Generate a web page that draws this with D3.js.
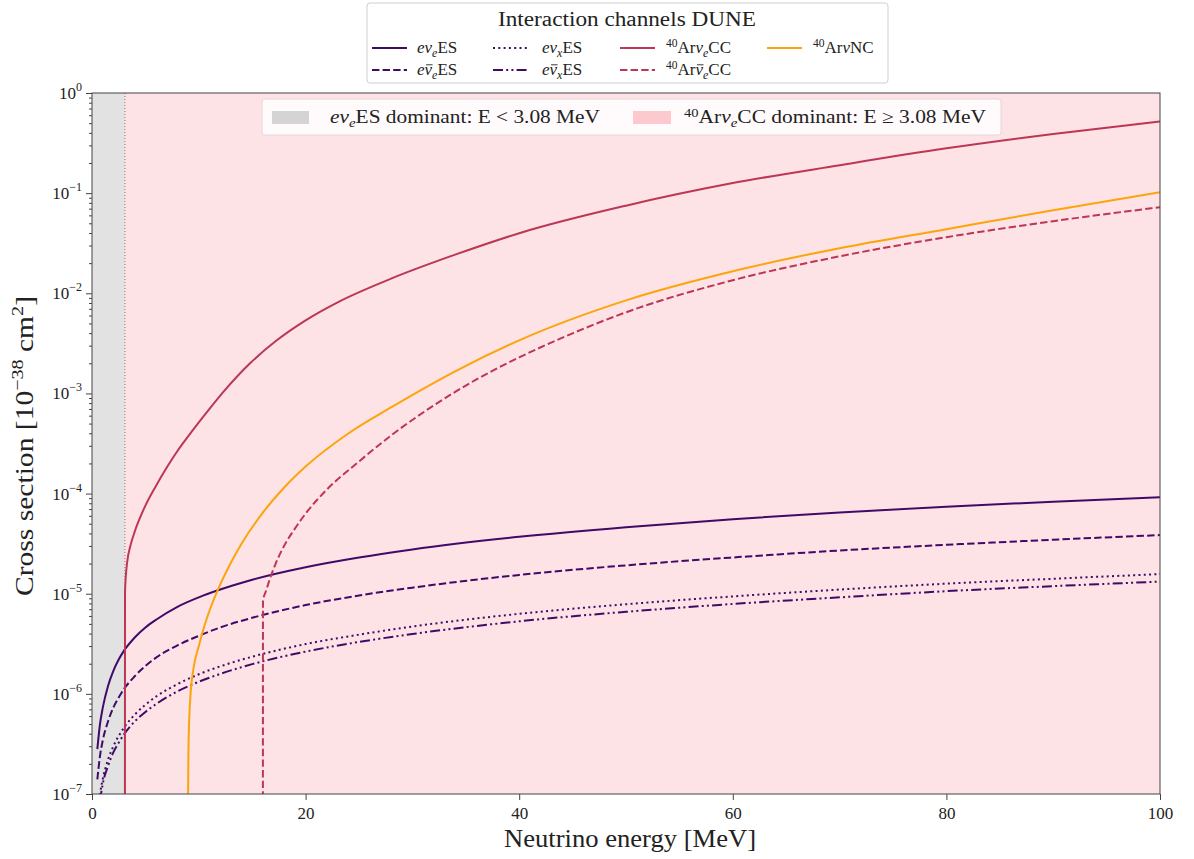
<!DOCTYPE html>
<html><head><meta charset="utf-8">
<script src="https://cdn.jsdelivr.net/npm/d3@7"></script>
<style>
body{margin:0;background:#fff;}
svg text{font-family:"Liberation Serif","DejaVu Serif",serif;fill:#222;}
</style></head><body>
<svg id="c" width="1194" height="859"></svg>
<script>
// ---------- data ----------
const threshold = 3.08;
const xTicks = [0, 20, 40, 60, 80, 100];
const yTickExps = [-7, -6, -5, -4, -3, -2, -1, 0];

const esE      = [0.5, 0.75, 1, 1.5, 2, 2.5, 3, 4, 5, 6, 8, 10, 12, 15, 20, 25, 30, 40, 50, 60, 70, 80, 90, 100];
const nueES    = [2.8e-7, 5.0e-7, 7.2e-7, 1.2e-6, 1.7e-6, 2.2e-6, 2.7e-6, 3.65e-6, 4.6e-6, 5.5e-6, 7.4e-6, 9.2e-6, 1.1e-5, 1.38e-5, 1.84e-5, 2.3e-5, 2.77e-5, 3.7e-5, 4.62e-5, 5.55e-5, 6.47e-5, 7.4e-5, 8.3e-5, 9.2e-5];
const nuebarES = [1.4e-7, 2.4e-7, 3.4e-7, 5.3e-7, 7.3e-7, 9.2e-7, 1.12e-6, 1.5e-6, 1.9e-6, 2.3e-6, 3.05e-6, 3.8e-6, 4.6e-6, 5.75e-6, 7.7e-6, 9.6e-6, 1.15e-5, 1.54e-5, 1.92e-5, 2.3e-5, 2.7e-5, 3.08e-5, 3.46e-5, 3.85e-5];
const nuxES    = [6.0e-8, 1.0e-7, 1.4e-7, 2.2e-7, 3.0e-7, 3.8e-7, 4.6e-7, 6.2e-7, 7.8e-7, 9.4e-7, 1.25e-6, 1.57e-6, 1.88e-6, 2.35e-6, 3.14e-6, 3.9e-6, 4.7e-6, 6.3e-6, 7.85e-6, 9.4e-6, 1.1e-5, 1.26e-5, 1.41e-5, 1.57e-5];
const nuxbarES = [5.0e-8, 8.5e-8, 1.25e-7, 1.9e-7, 2.6e-7, 3.25e-7, 3.95e-7, 5.3e-7, 6.6e-7, 7.9e-7, 1.06e-6, 1.32e-6, 1.58e-6, 1.98e-6, 2.64e-6, 3.3e-6, 3.96e-6, 5.3e-6, 6.6e-6, 7.9e-6, 9.2e-6, 1.06e-5, 1.19e-5, 1.32e-5];

const ccE   = [3.08, 3.09, 3.15, 3.3, 3.6, 4, 4.5, 5, 6, 7, 8, 9, 10, 11, 12.3, 14.8, 17.3, 20, 23, 28, 34, 40, 50, 60, 70, 80, 90, 100];
const ccNue = [1e-8, 1.0e-5, 1.41e-5, 2.09e-5, 3.02e-5, 4.17e-5, 5.75e-5, 7.59e-5, 1.2e-4, 1.82e-4, 2.66e-4, 3.72e-4, 5.13e-4, 7.0e-4, 1.035e-3, 2.0e-3, 3.39e-3, 5.37e-3, 8.13e-3, 1.4e-2, 2.43e-2, 3.98e-2, 7.5e-2, 0.126, 0.19, 0.28, 0.39, 0.52];

const ccbarE   = [16.0, 16.01, 16.3, 16.6, 17.2, 18, 19, 20, 22, 25, 28, 32, 36, 40, 45, 50, 60, 70, 80, 90, 100];
const ccNuebar = [1e-8, 8.5e-6, 1.07e-5, 1.35e-5, 2.0e-5, 3.02e-5, 4.47e-5, 6.31e-5, 1.1e-4, 2.09e-4, 3.8e-4, 7.59e-4, 1.38e-3, 2.29e-3, 3.98e-3, 6.46e-3, 1.35e-2, 2.34e-2, 3.63e-2, 5.25e-2, 7.24e-2];

const ncE  = [8.97, 9.0, 9.05, 9.2, 9.5, 10, 10.5, 11, 12, 13, 14, 16, 18, 20, 24, 28, 34, 40, 50, 60, 70, 80, 90, 100];
const ncNu = [1e-8, 1e-7, 3.55e-7, 8.9e-7, 1.78e-6, 3.0e-6, 4.68e-6, 6.76e-6, 1.23e-5, 2.04e-5, 3.16e-5, 6.46e-5, 1.15e-4, 1.86e-4, 3.98e-4, 7.24e-4, 1.66e-3, 3.39e-3, 8.5e-3, 1.66e-2, 2.82e-2, 4.37e-2, 6.76e-2, 0.102];

// ---------- styles ----------
const PURPLE = "#420a68", CRIMSON = "#bc3754", ORANGE = "#fca50a";
const DASH = "7.4,3.2", DOT = "2,3.3", DASHDOTDOT = "10,3.2,2,3.2,2,3.2";

const series = [
  {x: esE,    y: nueES,    color: PURPLE,  dash: null},
  {x: esE,    y: nuebarES, color: PURPLE,  dash: DASH},
  {x: esE,    y: nuxES,    color: PURPLE,  dash: DOT},
  {x: esE,    y: nuxbarES, color: PURPLE,  dash: DASHDOTDOT},
  {x: ccE,    y: ccNue,    color: CRIMSON, dash: null},
  {x: ccbarE, y: ccNuebar, color: CRIMSON, dash: DASH},
  {x: ncE,    y: ncNu,     color: ORANGE,  dash: null},
];

const svg = d3.select("#c");
const L = 92, R = 1160, T = 93, B = 794;
const x = d3.scaleLinear().domain([0, 100]).range([L, R]);
const y = d3.scaleLog().domain([1e-7, 1]).range([B, T]);

svg.append("defs").append("clipPath").attr("id", "clip")
  .append("rect").attr("x", L).attr("y", T).attr("width", R - L).attr("height", B - T);

// regions
svg.append("rect").attr("x", x(0)).attr("y", T).attr("width", x(threshold) - x(0)).attr("height", B - T).attr("fill", "#e2e2e2");
svg.append("rect").attr("x", x(threshold)).attr("y", T).attr("width", x(100) - x(threshold)).attr("height", B - T).attr("fill", "#fde2e6");
svg.append("line").attr("x1", x(threshold)).attr("x2", x(threshold)).attr("y1", T).attr("y2", B)
  .attr("stroke", "#b06a6a").attr("stroke-width", 1).attr("stroke-dasharray", "1,2");

// curves
const g = svg.append("g").attr("clip-path", "url(#clip)");
const line = d3.line().x(d => x(d[0])).y(d => y(d[1])).curve(d3.curveMonotoneX);
series.forEach(s => {
  g.append("path").datum(s.x.map((e, i) => [e, s.y[i]]))
    .attr("d", line).attr("fill", "none").attr("stroke", s.color).attr("stroke-width", 2)
    .attr("stroke-dasharray", s.dash);
});

// frame
svg.append("rect").attr("x", L).attr("y", T).attr("width", R - L).attr("height", B - T)
  .attr("fill", "none").attr("stroke", "#444").attr("stroke-width", 1);

// x axis
const xa = svg.append("g").attr("transform", `translate(0,${B})`)
  .call(d3.axisBottom(x).tickValues(xTicks).tickSize(6).tickFormat(d => d));
xa.select(".domain").remove();
xa.selectAll(".tick line").attr("stroke", "#444");
xa.selectAll(".tick text").attr("font-size", 17).attr("font-family", "Liberation Serif").attr("dy", "0.95em").attr("fill", "#222");

// y axis major + minor
const minor = [];
yTickExps.slice(0, -1).forEach(e => { for (let k = 2; k <= 9; k++) minor.push(k * Math.pow(10, e)); });
const ya = svg.append("g").attr("transform", `translate(${L},0)`)
  .call(d3.axisLeft(y).tickValues(yTickExps.map(e => Math.pow(10, e))).tickSize(6).tickFormat(""));
ya.select(".domain").remove();
ya.selectAll(".tick line").attr("stroke", "#444");
const ym = svg.append("g").attr("transform", `translate(${L},0)`)
  .call(d3.axisLeft(y).tickValues(minor).tickSize(3).tickFormat(""));
ym.select(".domain").remove();
ym.selectAll(".tick line").attr("stroke", "#444");

yTickExps.forEach(e => {
  const t = svg.append("text").attr("x", L - 10).attr("y", y(Math.pow(10, e)) + 6)
    .attr("text-anchor", "end").attr("font-size", 17);
  t.append("tspan").text("10");
  t.append("tspan").attr("dy", -8).attr("font-size", 12).text(e === 0 ? "0" : "\u2212" + (-e));
});

// axis labels
svg.append("text").attr("x", 630).attr("y", 847).attr("text-anchor", "middle").attr("font-size", 26)
  .attr("textLength", 252).attr("lengthAdjust", "spacingAndGlyphs")
  .text("Neutrino energy [MeV]");
const yl = svg.append("text").attr("transform", `translate(33,${446}) rotate(-90)`)
  .attr("text-anchor", "middle").attr("font-size", 25)
  .attr("textLength", 300).attr("lengthAdjust", "spacingAndGlyphs");
yl.append("tspan").text("Cross section [10");
yl.append("tspan").attr("dy", -10).attr("font-size", 17).text("\u221238");
yl.append("tspan").attr("dy", 10).text(" cm");
yl.append("tspan").attr("dy", -10).attr("font-size", 17).text("2");
yl.append("tspan").attr("dy", 10).text("]");

// label helpers
function nu(t, bar) {
  const s = t.append("tspan").attr("font-style", "italic").text("\u03BD");
  if (bar) s.classed("nubar", true);
}
function esLabel(t, bar, flav) {
  t.append("tspan").attr("font-style", "italic").text("e");
  nu(t, bar);
  t.append("tspan").attr("font-style", "italic").attr("font-size", "70%").attr("dy", 4).text(flav);
  t.append("tspan").attr("dy", -4).text("ES");
}
function arLabel(t, bar, flav, tail) {
  t.append("tspan").attr("font-size", "68%").attr("dy", -6).text("40");
  t.append("tspan").attr("dy", 6).text("Ar");
  nu(t, bar);
  if (flav) {
    t.append("tspan").attr("font-style", "italic").attr("font-size", "70%").attr("dy", 4).text(flav);
    t.append("tspan").attr("dy", -4).text(tail);
  } else t.append("tspan").text(tail);
}

// top legend
const lg = svg.append("g");
lg.append("rect").attr("x", 367).attr("y", 3).attr("width", 521).attr("height", 80).attr("rx", 3)
  .attr("fill", "#fff").attr("stroke", "#cfcfcf");
lg.append("text").attr("x", 627).attr("y", 26).attr("text-anchor", "middle").attr("font-size", 20)
  .attr("textLength", 258).attr("lengthAdjust", "spacingAndGlyphs")
  .text("Interaction channels DUNE");
const legendItems = [
  {lx: 372, tx: 417, ly: 48, s: 0, lab: t => esLabel(t, false, "e")},
  {lx: 372, tx: 417, ly: 70, s: 1, lab: t => esLabel(t, true, "e")},
  {lx: 493, tx: 542, ly: 48, s: 2, lab: t => esLabel(t, false, "x")},
  {lx: 493, tx: 542, ly: 70, s: 3, lab: t => esLabel(t, true, "x")},
  {lx: 620, tx: 666, ly: 48, s: 4, lab: t => arLabel(t, false, "e", "CC")},
  {lx: 620, tx: 666, ly: 70, s: 5, lab: t => arLabel(t, true, "e", "CC")},
  {lx: 767, tx: 813, ly: 48, s: 6, lab: t => arLabel(t, false, null, "NC")},
];
legendItems.forEach(it => {
  const s = series[it.s];
  lg.append("line").attr("x1", it.lx).attr("x2", it.lx + 35).attr("y1", it.ly).attr("y2", it.ly)
    .attr("stroke", s.color).attr("stroke-width", 2).attr("stroke-dasharray", s.dash);
  const t = lg.append("text").attr("x", it.tx).attr("y", it.ly + 5).attr("font-size", 17);
  it.lab(t);
});

// inner legend
const il = svg.append("g");
il.append("rect").attr("x", 262).attr("y", 99).attr("width", 739).attr("height", 36).attr("rx", 3)
  .attr("fill", "#fff").attr("fill-opacity", 0.85).attr("stroke", "#e6d6d8");
il.append("rect").attr("x", 272).attr("y", 111).attr("width", 37).attr("height", 13).attr("fill", "#d4d4d4");
il.append("rect").attr("x", 633).attr("y", 111).attr("width", 38).attr("height", 13).attr("fill", "#fcc9ce");
const t1 = il.append("text").attr("x", 330).attr("y", 123).attr("font-size", 18)
  .attr("textLength", 270).attr("lengthAdjust", "spacingAndGlyphs");
esLabel(t1, false, "e");
t1.append("tspan").text(" dominant:  E < 3.08 MeV");
const t2 = il.append("text").attr("x", 684).attr("y", 123).attr("font-size", 18)
  .attr("textLength", 302).attr("lengthAdjust", "spacingAndGlyphs");
arLabel(t2, false, "e", "CC");
t2.append("tspan").text(" dominant:  E \u2265 3.08 MeV");

// macrons over the barred nu symbols
svg.selectAll("tspan.nubar").each(function () {
  const ext = this.getExtentOfChar(0);
  const base = this.getStartPositionOfChar(0).y;
  const parent = this.parentNode;
  const fs = parseFloat(d3.select(parent).attr("font-size"));
  d3.select(parent.parentNode).append("line")
    .attr("x1", ext.x + 1.5).attr("x2", ext.x + ext.width + 0.5)
    .attr("y1", base - fs * 0.6).attr("y2", base - fs * 0.6)
    .attr("stroke", "#222").attr("stroke-width", 0.9);
});
</script>
</body></html>
